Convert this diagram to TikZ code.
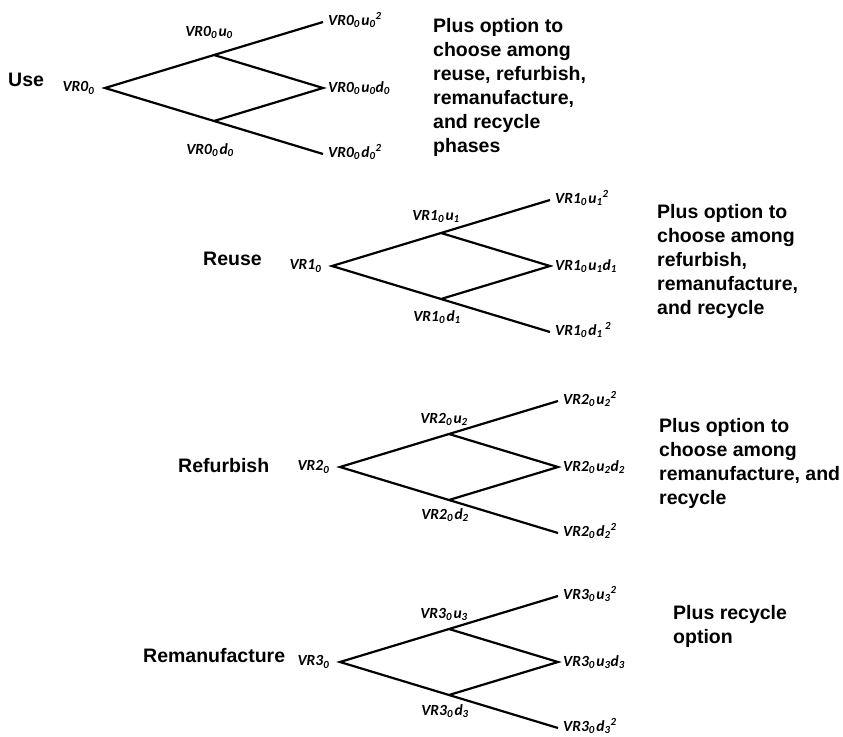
\documentclass[tikz,border=0pt]{standalone}
\usepackage{fontspec}
\setmainfont{Liberation Sans}
\newfontfamily\lblfont{Carlito}
\usetikzlibrary{positioning}
\newcommand\vr[1]{VR#1\textsubscript{0}\kern1.5pt}
\newcommand\lo[1]{\textsubscript{#1}}
\newcommand\hi[1]{\textsuperscript{#1}}
\tikzstyle{branch}=[line width=2.2pt]
\tikzstyle{phase}=[font=\fontsize{19.5}{24}\selectfont\bfseries,inner sep=0pt]
\tikzstyle{note}=[phase,align=left,anchor=north west]
\tikzstyle{val}=[font=\lblfont\fontsize{15.5}{17}\selectfont\bfseries\itshape,inner sep=1pt]
% #1 index, #2,#3 root, #4/#5 gaps of the middle labels, #6 space before the square
\newcommand\lattice[6]{%
  \coordinate (r#1) at (#2,#3);
  \path (r#1) ++(109,-33) coordinate (u#1) ++(109,-33) coordinate (uu#1);
  \path (r#1) ++(109,33) coordinate (d#1) ++(109,33) coordinate (dd#1);
  \path (u#1) ++(109,33) coordinate (ud#1);
  \draw[branch] (uu#1) -- (u#1) -- (r#1) -- (d#1) -- (dd#1);
  \draw[branch] (u#1) -- (ud#1) -- (d#1);
  \node[val,anchor=east] (lr#1) at ([xshift=-8pt]r#1) {\vr#1};
  \node[val,above=#4 of u#1,xshift=-5pt] (lu#1) {\vr#1u\lo#1};
  \node[val,below=#5 of d#1,xshift=-4pt] (ld#1) {\vr#1d\lo#1};
  \node[val,right=4pt of uu#1,yshift=2pt] (luu#1) {\vr#1u\lo#1\hi2};
  \node[val,right=4pt of ud#1] (lud#1) {\vr#1u\lo#1d\lo#1};
  \node[val,right=4pt of dd#1,yshift=2pt] (ldd#1) {\vr#1d\lo#1#6\hi2};
}

\begin{document}
\begin{tikzpicture}[x=1pt,y=-1pt]
	\useasboundingbox (0,0) rectangle (843,736);
	\lattice{0}{105}{88}{15pt}{21pt}{}
	\lattice{1}{332}{266}{9pt}{10pt}{\,}
	\lattice{2}{340}{467}{7pt}{7pt}{}
	\lattice{3}{340}{662}{7pt}{8pt}{}
	\node[phase,anchor=base west] (use) at (8,86) {Use};
	\node[phase,anchor=base west] (reuse) at (203,265) {Reuse};
	\node[phase,anchor=base west] (refurb) at (178,472) {Refurbish};
	\node[phase,anchor=base west] (reman) at (143,662) {Remanufacture};
	\node[note] (n0) at (433,18) {Plus option to\\choose among\\reuse, refurbish,\\remanufacture,\\and recycle\\phases};
	\node[note] (n1) at (657,204) {Plus option to\\choose among\\refurbish,\\remanufacture,\\and recycle};
	\node[note] (n2) at (659,418) {Plus option to\\choose among\\remanufacture, and\\recycle};
	\node[note] (n3) at (673,605) {Plus recycle\\option};
\end{tikzpicture}
\end{document}
